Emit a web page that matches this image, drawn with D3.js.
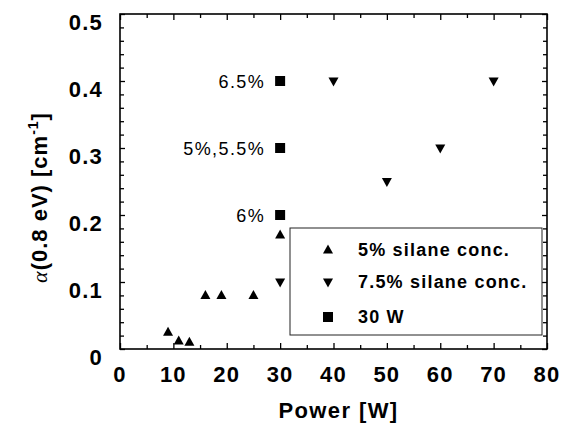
<!DOCTYPE html>
<html>
<head>
<meta charset="utf-8">
<script src="https://cdn.jsdelivr.net/npm/d3@7"></script>
<style>
body { margin: 0; background: #fff; }
svg text { font-family: "Liberation Sans", Arial, sans-serif; fill: #000; }
.axis path { display: none; }
.axis line { stroke: #000; stroke-width: 1.3; }
.tick-label { font-size: 22px; font-weight: bold; letter-spacing: 1.2px; }
</style>
</head>
<body>
<div id="chart"></div>
<script>
// 5% silane conc. (triangle up)
var silane5Power = [9, 11, 13, 16, 19, 25, 30];
var silane5Alpha = [0.025, 0.012, 0.010, 0.080, 0.080, 0.080, 0.170];
// 7.5% silane conc. (triangle down)
var silane75Power = [30, 40, 50, 60, 70];
var silane75Alpha = [0.100, 0.400, 0.250, 0.300, 0.400];
// 30 W series with annotations
var w30Power = [30, 30, 30];
var w30Alpha = [0.400, 0.300, 0.200];
var w30Labels = ["6.5%", "5%,5.5%", "6%"];

var xTicks = [0, 10, 20, 30, 40, 50, 60, 70, 80];
var yTicks = [0, 0.1, 0.2, 0.3, 0.4, 0.5];
var yTickLabels = ["0", "0.1", "0.2", "0.3", "0.4", "0.5"];

var legendItems = [
    {label: "5% silane conc.", shape: "up"},
    {label: "7.5% silane conc.", shape: "down"},
    {label: "30 W", shape: "square"}
];

var W = 563, H = 428;
var margin = {top: 14, right: 16, bottom: 79, left: 120};
var width = W - margin.left - margin.right;
var height = H - margin.top - margin.bottom;

var svg = d3.select('#chart').append('svg')
    .attr('width', W)
    .attr('height', H);

var g = svg.append('g')
    .attr('transform', 'translate(' + margin.left + ',' + margin.top + ')');

var x = d3.scaleLinear().domain([0, 80]).range([0, width]);
var y = d3.scaleLinear().domain([0, 0.5]).range([height, 0]);

var xMinor = d3.range(5, 80, 10);
var yMinor = d3.range(0, 0.5, 0.02).filter(function(v) { return Math.abs(v * 10 - Math.round(v * 10)) > 1e-6; });

// frame
g.append('rect')
    .attr('width', width).attr('height', height)
    .attr('fill', 'none').attr('stroke', '#000').attr('stroke-width', 1.6);

// major / minor ticks on all four sides, pointing inward
g.append('g').attr('class', 'axis x-bottom')
    .attr('transform', 'translate(0,' + height + ')')
    .call(d3.axisBottom(x).tickValues(xTicks).tickSize(-6).tickPadding(0).tickFormat(''));
g.append('g').attr('class', 'axis')
    .attr('transform', 'translate(0,' + height + ')')
    .call(d3.axisBottom(x).tickValues(xMinor).tickSize(-4).tickFormat(''));
g.append('g').attr('class', 'axis')
    .call(d3.axisTop(x).tickValues(xTicks).tickSize(-6).tickFormat(''));
g.append('g').attr('class', 'axis')
    .call(d3.axisTop(x).tickValues(xMinor).tickSize(-4).tickFormat(''));
g.append('g').attr('class', 'axis')
    .call(d3.axisLeft(y).tickValues(yTicks).tickSize(-5).tickFormat(''));
g.append('g').attr('class', 'axis')
    .call(d3.axisLeft(y).tickValues(yMinor).tickSize(-4).tickFormat(''));
g.append('g').attr('class', 'axis')
    .attr('transform', 'translate(' + width + ',0)')
    .call(d3.axisRight(y).tickValues(yTicks).tickSize(-5).tickFormat(''));
g.append('g').attr('class', 'axis')
    .attr('transform', 'translate(' + width + ',0)')
    .call(d3.axisRight(y).tickValues(yMinor).tickSize(-4).tickFormat(''));

// tick labels
g.selectAll('.xlab').data(xTicks).enter().append('text')
    .attr('class', 'tick-label')
    .attr('x', function(d) { return x(d); })
    .attr('y', height + 33)
    .attr('text-anchor', 'middle')
    .text(function(d) { return d; });

g.selectAll('.ylab').data(yTicks).enter().append('text')
    .attr('class', 'tick-label')
    .attr('x', -17)
    .attr('y', function(d) { return y(d) + 16; })
    .attr('text-anchor', 'end')
    .text(function(d, i) { return yTickLabels[i]; });

// axis titles
svg.append('text')
    .attr('x', margin.left + width / 2 + 5)
    .attr('y', 418)
    .attr('text-anchor', 'middle')
    .style('font-size', '22px').style('font-weight', 'bold').style('letter-spacing', '1.4px')
    .text('Power [W]');

var yTitle = svg.append('text')
    .attr('transform', 'translate(47,' + (margin.top + height / 2 + 16) + ') rotate(-90)')
    .attr('text-anchor', 'middle')
    .style('font-size', '22px').style('font-weight', 'bold').style('letter-spacing', '1px');
yTitle.append('tspan').style('font-family', '"Liberation Serif", serif').style('font-weight', 'normal').style('font-style', 'italic').text('α');
yTitle.append('tspan').text('(0.8 eV) [cm');
yTitle.append('tspan').attr('dy', -9).style('font-size', '14px').text('-1');
yTitle.append('tspan').attr('dy', 9).text(']');

// marker shapes
function shapePath(shape) {
    if (shape === 'up') return 'M0,-5.5L5,3.5L-5,3.5Z';
    if (shape === 'down') return 'M0,5.5L5,-3.5L-5,-3.5Z';
    return 'M-5,-5H5V5H-5Z';
}

function drawSeries(xs, ys, shape) {
    g.selectAll(null).data(xs).enter().append('path')
        .attr('d', shapePath(shape))
        .attr('fill', '#000')
        .attr('transform', function(d, i) { return 'translate(' + x(d) + ',' + y(ys[i]) + ')'; });
}

drawSeries(silane5Power, silane5Alpha, 'up');
drawSeries(silane75Power, silane75Alpha, 'down');
drawSeries(w30Power, w30Alpha, 'square');

// annotations for 30 W points
g.selectAll('.ann').data(w30Labels).enter().append('text')
    .attr('x', function(d, i) { return x(w30Power[i]) - 15; })
    .attr('y', function(d, i) { return y(w30Alpha[i]) + 7; })
    .attr('text-anchor', 'end')
    .style('font-size', '18px').style('letter-spacing', '1.4px')
    .text(function(d) { return d; });

// legend
var lg = svg.append('g').attr('transform', 'translate(290,228)');
lg.append('rect')
    .attr('width', 252).attr('height', 107)
    .attr('fill', '#fff').attr('stroke', '#222').attr('stroke-width', 1);
var rows = lg.selectAll('.row').data(legendItems).enter().append('g')
    .attr('transform', function(d, i) { return 'translate(0,' + [22, 54, 89][i] + ')'; });
rows.append('path')
    .attr('transform', 'translate(38,0)')
    .attr('d', function(d) { return shapePath(d.shape); })
    .attr('fill', '#000');
rows.append('text')
    .attr('x', 68)
    .attr('y', 6)
    .style('font-size', '18px').style('font-weight', 'bold').style('letter-spacing', '1.2px')
    .text(function(d) { return d.label; });
</script>
</body>
</html>
